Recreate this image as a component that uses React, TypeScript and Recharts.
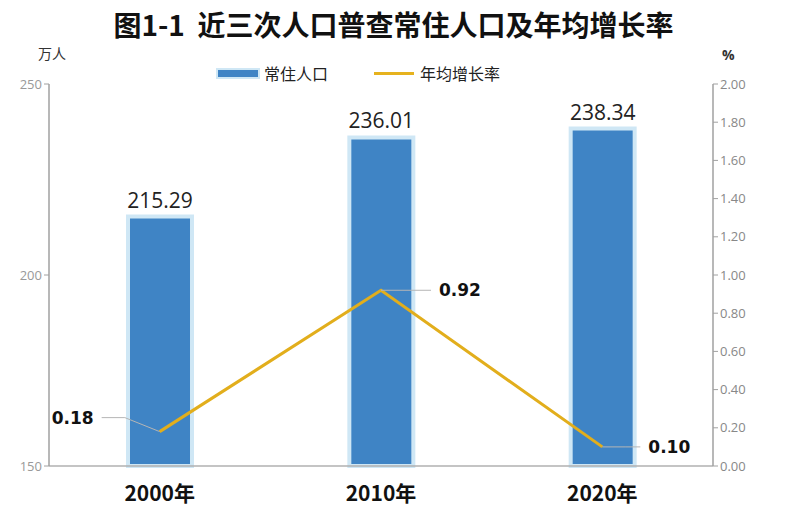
import React from "react";
import {
  ComposedChart,
  Bar,
  Line,
  XAxis,
  YAxis,
  LabelList,
} from "recharts";

const years = ["2000年", "2010年", "2020年"];
const population = [215.29, 236.01, 238.34];
const growthRate = [0.18, 0.92, 0.1];
const leftTicks = [150, 200, 250];
const rightTicks = [0, 0.2, 0.4, 0.6, 0.8, 1.0, 1.2, 1.4, 1.6, 1.8, 2.0];

const data = years.map((year, i) => ({
  year,
  population: population[i],
  rate: growthRate[i],
}));

const numFont = "'Open Sans', 'Noto Sans', sans-serif";
const cjkFont = "'Noto Sans CJK SC', sans-serif";

// leader line + bold value next to each point of the rate line
const RateLabel = (props: any) => {
  const { x, y, value, index } = props;
  const text = Number(value).toFixed(2);
  let lx2, ly2, tx, anchor;
  if (index === 0) {
    lx2 = x - 58;
    ly2 = y - 14;
    tx = lx2 - 8;
    anchor = "end";
  } else {
    lx2 = x + (index === 2 ? 38 : 50);
    ly2 = y;
    tx = lx2 + 8;
    anchor = "start";
  }
  return (
    <g>
      <polyline
        points={`${x},${y} ${x + (lx2 - x) * 0.6},${ly2} ${lx2},${ly2}`}
        fill="none"
        stroke="#b5b5b5"
        strokeWidth={1}
      />
      <text
        x={tx}
        y={ly2}
        dy={6}
        textAnchor={anchor}
        fontFamily="'DejaVu Sans', sans-serif"
        fontWeight="bold"
        fontSize={17}
        fill="#111"
      >
        {text}
      </text>
    </g>
  );
};

export default function App() {
  return (
    <div style={{ position: "absolute", left: 0, top: 0, width: 787, height: 524, background: "#fff" }}>
      <div
        style={{
          position: "absolute",
          left: 0,
          top: 4,
          width: 787,
          textAlign: "center",
          fontFamily: cjkFont,
          fontWeight: "bold",
          fontSize: 28,
          color: "#111",
          whiteSpace: "nowrap",
        }}
      >
        图1-1&nbsp;&nbsp;近三次人口普查常住人口及年均增长率
      </div>
      <div style={{ position: "absolute", left: 38, top: 43, fontFamily: cjkFont, fontSize: 14, color: "#333" }}>
        万人
      </div>
      <div style={{ position: "absolute", left: 722, top: 45, fontFamily: numFont, fontWeight: "bold", fontSize: 14, color: "#333" }}>
        %
      </div>
      <div
        style={{
          position: "absolute",
          left: 218,
          top: 61,
          display: "flex",
          alignItems: "center",
          fontFamily: cjkFont,
          fontSize: 16,
          color: "#222",
        }}
      >
        <span style={{ display: "inline-block", width: 40, height: 7, background: "#3F84C5", boxShadow: "0 0 0 2px #CFE7F5", marginRight: 6 }} />
        <span style={{ marginRight: 46 }}>常住人口</span>
        <span style={{ display: "inline-block", width: 40, height: 3, background: "#E6B21E", marginRight: 6 }} />
        <span>年均增长率</span>
      </div>
      <ComposedChart
        width={787}
        height={524}
        data={data}
        margin={{ top: 84, right: 0, bottom: 0, left: 0 }}
        style={{ position: "absolute", left: 0, top: 0 }}
      >
        <XAxis
          dataKey="year"
          height={58}
          axisLine={{ stroke: "#b0b0b0", strokeWidth: 1.5 }}
          tickLine={false}
          tick={{ fontSize: 21, fontWeight: "bold", fill: "#111", fontFamily: cjkFont }}
          tickMargin={14}
        />
        <YAxis
          yAxisId="left"
          width={49}
          domain={[150, 250]}
          ticks={leftTicks}
          axisLine={{ stroke: "#a0a0a0", strokeWidth: 1.5 }}
          tickLine={{ stroke: "#a0a0a0" }}
          tickSize={5}
          tick={{ fontSize: 13, fill: "#999", fontFamily: numFont }}
        />
        <YAxis
          yAxisId="right"
          orientation="right"
          width={74}
          domain={[0, 2]}
          ticks={rightTicks}
          tickFormatter={(v: number) => v.toFixed(2)}
          axisLine={{ stroke: "#a0a0a0", strokeWidth: 1.5 }}
          tickLine={{ stroke: "#a0a0a0" }}
          tickSize={5}
          tick={{ fontSize: 13, fill: "#888", fontFamily: numFont }}
        />
        <Bar
          yAxisId="left"
          dataKey="population"
          name="常住人口"
          fill="#3F84C5"
          stroke="#CFE7F5"
          strokeWidth={4}
          barSize={64}
          isAnimationActive={false}
        >
          <LabelList
            dataKey="population"
            position="top"
            offset={9}
            fill="#222"
            fontSize={21}
            fontFamily={numFont}
            formatter={(v: any) => Number(v).toFixed(2)}
          />
        </Bar>
        <Line
          yAxisId="right"
          dataKey="rate"
          name="年均增长率"
          stroke="#E2AE1C"
          strokeWidth={3}
          dot={false}
          activeDot={false}
          isAnimationActive={false}
        >
          <LabelList dataKey="rate" content={<RateLabel />} />
        </Line>
      </ComposedChart>
    </div>
  );
}
